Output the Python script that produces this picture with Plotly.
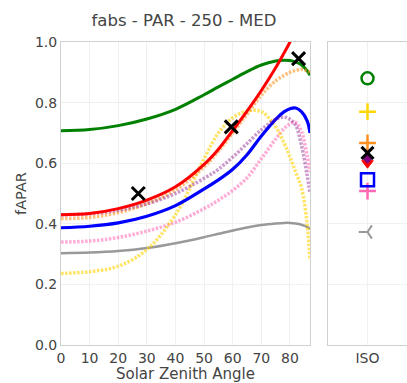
import plotly.graph_objects as go

# Solar zenith angles (degrees) at which each model curve is sampled
sza = [0, 10, 20, 30, 40, 50, 55, 60, 65, 70, 75, 78, 80, 82, 84, 86, 87]

green_vals = [0.707, 0.711, 0.724, 0.746, 0.778, 0.826, 0.852, 0.877, 0.902, 0.924, 0.937, 0.940, 0.939, 0.934, 0.925, 0.905, 0.89]
red_vals = [0.430, 0.434, 0.450, 0.478, 0.522, 0.596, 0.646, 0.708, 0.772, 0.840, 0.915, 0.965, 1.0, 1.04, 1.08, 1.12, 1.14]
orange_vals = [0.417, 0.421, 0.437, 0.466, 0.512, 0.588, 0.640, 0.700, 0.762, 0.825, 0.872, 0.890, 0.900, 0.906, 0.910, 0.905, 0.900]
yellow_vals = [0.236, 0.242, 0.260, 0.315, 0.430, 0.615, 0.700, 0.750, 0.772, 0.770, 0.720, 0.665, 0.620, 0.570, 0.520, 0.400, 0.280]
blue_vals = [0.387, 0.392, 0.403, 0.425, 0.460, 0.515, 0.545, 0.580, 0.628, 0.690, 0.745, 0.770, 0.780, 0.782, 0.770, 0.740, 0.700]
purple_vals = [0.430, 0.433, 0.445, 0.466, 0.500, 0.550, 0.580, 0.620, 0.665, 0.710, 0.745, 0.752, 0.745, 0.725, 0.660, 0.560, 0.500]
pink_vals = [0.340, 0.343, 0.355, 0.376, 0.405, 0.450, 0.478, 0.510, 0.552, 0.615, 0.680, 0.715, 0.730, 0.735, 0.705, 0.625, 0.570]
gray_vals = [0.303, 0.305, 0.310, 0.320, 0.336, 0.356, 0.367, 0.378, 0.388, 0.396, 0.401, 0.403, 0.403, 0.401, 0.397, 0.390, 0.383]

# Reference measurements at specific zenith angles
ref_sza = [27, 59.5, 83]
ref_vals = [0.50, 0.72, 0.945]

# Isotropic (ISO) values per model
iso_cat = ["ISO"]
iso_green = 0.88
iso_yellow = 0.77
iso_orange = 0.667
iso_black = 0.634
iso_purple = 0.617
iso_red = 0.60
iso_blue = 0.545
iso_pink = 0.508
iso_gray = 0.373

FONT = "DejaVu Sans"
TXT = "#444"

fig = go.Figure()

def curve(y, color, width, dash="solid"):
    fig.add_trace(go.Scatter(
        x=sza, y=y, mode="lines", line=dict(color=color, width=width, dash=dash, shape="spline"),
        xaxis="x", yaxis="y", hoverinfo="skip"))

DOTS = "2.5px,1.5px"
curve(gray_vals, "#999999", 2.5)
curve(green_vals, "#008000", 3)
curve(pink_vals, "rgba(255,105,180,0.55)", 3.5, DOTS)
curve(yellow_vals, "rgba(255,210,0,0.6)", 3.5, DOTS)
curve(orange_vals, "rgba(255,150,40,0.6)", 3.5, DOTS)
curve(blue_vals, "#0000FF", 3.2)
curve(purple_vals, "rgba(128,0,128,0.4)", 3.5, DOTS)
curve(red_vals, "#FF0000", 3)

fig.add_trace(go.Scatter(
    x=ref_sza, y=ref_vals, mode="markers",
    marker=dict(symbol="x-thin", size=13, line=dict(color="black", width=3)),
    xaxis="x", yaxis="y"))

def iso(val, symbol, color, size=12, width=2.5, fill=None):
    fig.add_trace(go.Scatter(
        x=iso_cat, y=[val], mode="markers",
        marker=dict(symbol=symbol, size=size, color=fill if fill else color,
                    line=dict(color=color, width=width)),
        xaxis="x2", yaxis="y2"))

iso(iso_green, "circle-open", "#008000", 12, 2.5)
iso(iso_yellow, "cross-thin", "#FFD700", 12, 2.5)
iso(iso_orange, "cross-thin", "#FF9020", 12, 2.5)
iso(iso_pink, "cross-thin", "#FF69B4", 12, 2.5)
iso(iso_blue, "square-open", "#0000FF", 13, 2.5)
iso(iso_red, "triangle-down", "#FF0000", 10, 1, "#FF0000")
iso(iso_purple, "diamond", "#800080", 8, 1, "#800080")
iso(iso_black, "x-thin", "black", 12, 3)
iso(iso_gray, "y-left", "#999999", 11, 2)

axis_common = dict(
    showline=True, linecolor="#d0d0d0", linewidth=1, showgrid=True, gridcolor="#f0f0f0",
    zeroline=False, ticks="", tickfont=dict(family=FONT, size=14, color=TXT),
)

fig.update_layout(
    width=407, height=383,
    margin=dict(l=61, r=0, t=42, b=38),
    paper_bgcolor="white", plot_bgcolor="white",
    showlegend=False,
    title=dict(text="fabs - PAR - 250 - MED", x=0.452, xanchor="center", y=0.947, yanchor="middle",
               font=dict(family=FONT, size=16.5, color=TXT)),
    xaxis=dict(domain=[0, 0.7197], range=[0, 87], tickvals=[0, 10, 20, 30, 40, 50, 60, 70, 80],
               mirror=True,
               title=dict(text="Solar Zenith Angle", standoff=1,
                          font=dict(family=FONT, size=15, color=TXT)),
               **axis_common),
    yaxis=dict(range=[0, 1], tickvals=[0, 0.2, 0.4, 0.6, 0.8, 1.0], tickformat=".1f", mirror=True,
               title=dict(text="fAPAR", standoff=4,
                          font=dict(family=FONT, size=14.5, color=TXT)),
               **axis_common),
    xaxis2=dict(domain=[0.7717, 1.0], anchor="y2", type="category", range=[-0.5, 0.5], mirror=True,
                **axis_common),
    yaxis2=dict(anchor="x2", range=[0, 1], tickvals=[0, 0.2, 0.4, 0.6, 0.8, 1.0], showticklabels=False,
                mirror=False, **axis_common),
)

fig.write_html("out.html")
